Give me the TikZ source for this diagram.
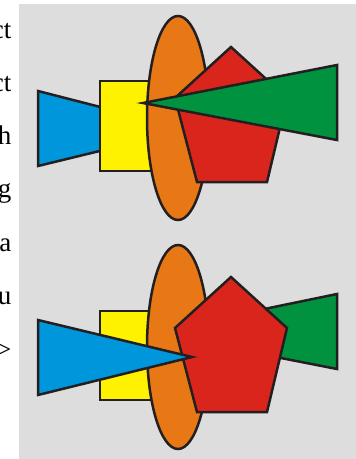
\documentclass[tikz,border=0pt]{standalone}
\usepackage{fontspec}
\setmainfont{Liberation Serif}
\usetikzlibrary{calc}
\definecolor{fondo}{RGB}{221,221,221}
\definecolor{azul}{RGB}{0,150,219}
\definecolor{amarillo}{RGB}{255,242,0}
\definecolor{naranja}{RGB}{232,120,22}
\definecolor{rojo}{RGB}{218,37,29}
\definecolor{verde}{RGB}{0,146,63}
\definecolor{borde}{RGB}{35,31,32}
\tikzset{
  pieza/.style={draw=borde, line width=2.5pt, line join=miter},
  letra/.style={anchor=base east, inner sep=0pt, font=\fontsize{27}{27}\selectfont},
}
\begin{document}
\begin{tikzpicture}[x=1pt, y=-1pt]
  \useasboundingbox (0,0) rectangle (356,459);
  \clip (0,0) rectangle (356,459);
  \fill[fondo] (19,4) rectangle (356,459);
  % cut-off text on the left
  \node[letra] (l1) at (11.5,38) {ct};
  \node[letra] (l2) at (11.5,91) {ct};
  \node[letra] (l3) at (11.5,144) {h};
  \node[letra] (l4) at (11.5,197) {g};
  \node[letra] (l5) at (11.5,251) {a};
  \node[letra] (l6) at (11.5,304) {u};
  \node[letra] (l7) at (11.5,358) {>};
  % upper group
  \draw[pieza, fill=azul] (38,91) -- (112,110) -- (112,148) -- (38,166) -- cycle;
  \draw[pieza, fill=amarillo] (100,81) rectangle (152,171);
  \draw[pieza, fill=naranja] (178,118) ellipse [x radius=31pt, y radius=102pt];
  \draw[pieza, fill=rojo] (231,47) -- (287,98) -- (267,182) -- (197,182) -- (175,98) -- cycle;
  \draw[pieza, fill=verde] (143,103) -- (337,65) -- (337,140) -- cycle;
  % lower group
  \draw[pieza, fill=verde] (240,314) -- (337,294) -- (337,369) -- (240,350) -- cycle;
  \draw[pieza, fill=amarillo] (100,311) rectangle (152,400);
  \draw[pieza, fill=naranja] (178,347) ellipse [x radius=31pt, y radius=102pt];
  \draw[pieza, fill=rojo] (231,277) -- (287,328) -- (267,412) -- (197,412) -- (175,328) -- cycle;
  \draw[pieza, fill=azul] (38,320) -- (192,357) -- (38,395) -- cycle;
\end{tikzpicture}
\end{document}
